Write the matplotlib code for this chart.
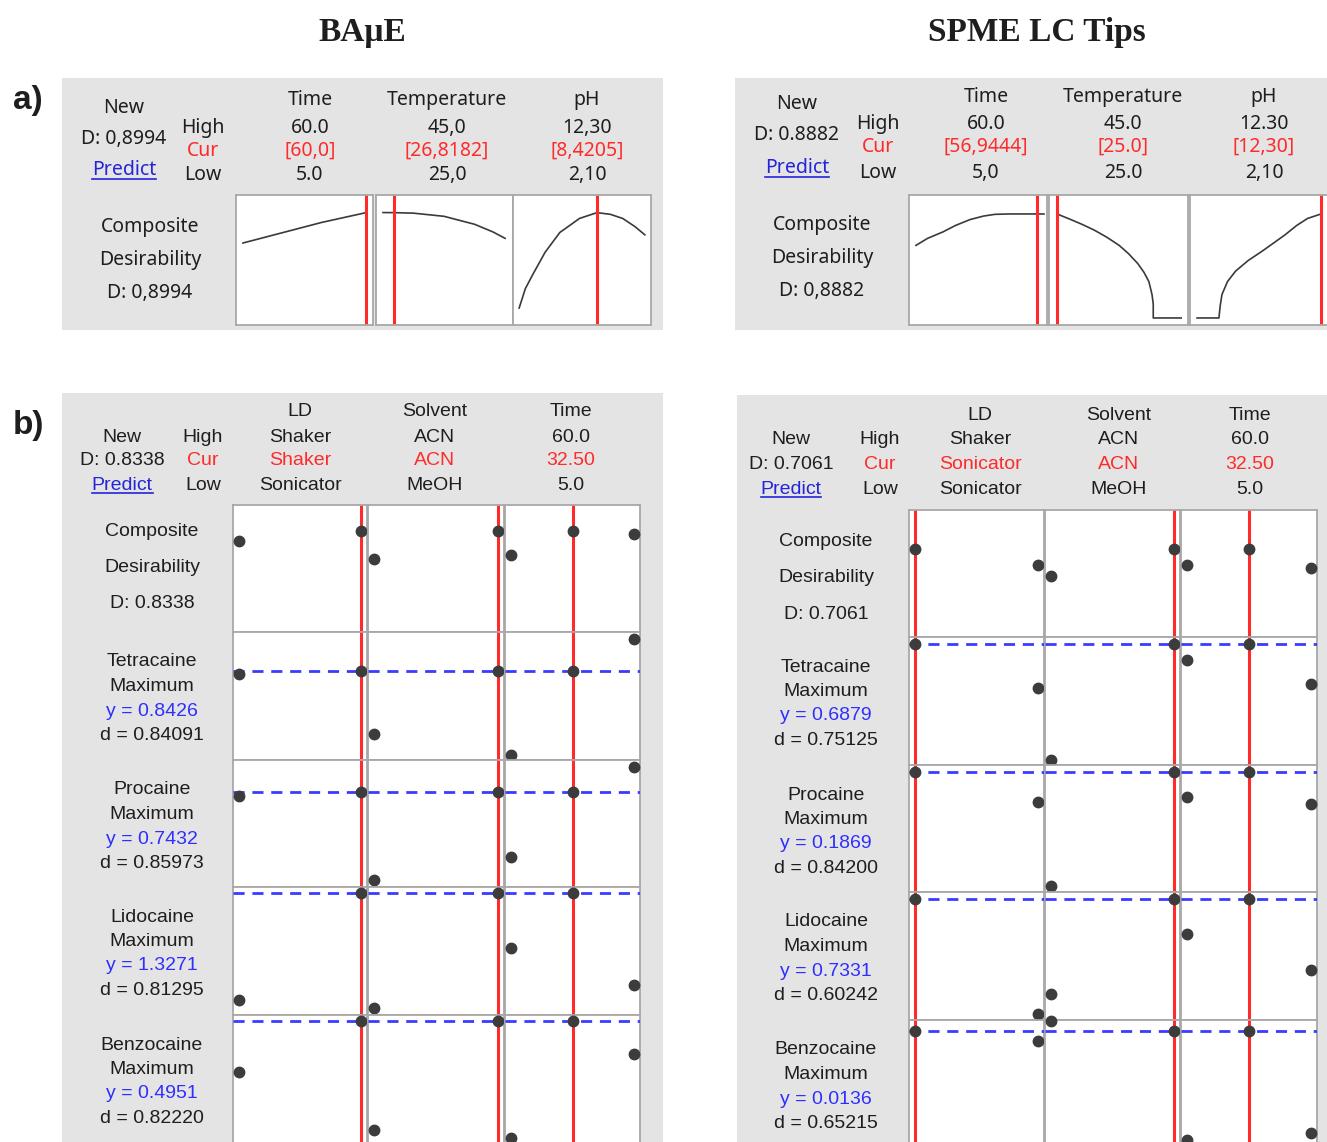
import matplotlib
matplotlib.use('Agg')
import matplotlib.pyplot as plt
from matplotlib.patches import Rectangle
from matplotlib.lines import Line2D

W, H = 1327, 1142

# ---------------- data: panel a (composite desirability profiles) ----------------
a_factors = ['Time', 'Temperature', 'pH']

baue_a_high = ['60.0', '45,0', '12,30']
baue_a_cur = ['[60,0]', '[26,8182]', '[8,4205]']
baue_a_low = ['5.0', '25,0', '2,10']
baue_a_D = 'D: 0,8994'
baue_a_compD = 'D: 0,8994'
baue_a_cur_val = [60.0, 26.8182, 8.4205]
baue_time_x = [5, 20, 40, 60]
baue_time_d = [0.64, 0.715, 0.815, 0.8994]
baue_temp_x = [25, 26.82, 30, 35, 40, 43, 45]
baue_temp_d = [0.90, 0.8994, 0.895, 0.868, 0.80, 0.735, 0.68]
baue_ph_x = [2.1, 2.6, 3.2, 4.2, 5.4, 7.0, 8.42, 9.5, 10.5, 11.5, 12.3]
baue_ph_d = [0.085, 0.25, 0.37, 0.56, 0.73, 0.85, 0.8994, 0.885, 0.85, 0.78, 0.71]

spme_a_high = ['60.0', '45.0', '12.30']
spme_a_cur = ['[56,9444]', '[25.0]', '[12,30]']
spme_a_low = ['5,0', '25.0', '2,10']
spme_a_D = 'D: 0.8882'
spme_a_compD = 'D: 0,8882'
spme_a_cur_val = [56.9444, 25.0, 12.30]
spme_time_x = [5, 10, 16.6, 22, 28.2, 34, 39, 45, 50, 56.94, 60]
spme_time_d = [0.62, 0.68, 0.735, 0.79, 0.84, 0.87, 0.885, 0.888, 0.888, 0.8882, 0.888]
spme_temp_x = [25, 27, 29, 31, 33, 35, 36.5, 38, 39, 39.8, 40.3, 40.5, 40.5, 45]
spme_temp_d = [0.888, 0.845, 0.80, 0.75, 0.69, 0.62, 0.55, 0.465, 0.39, 0.31, 0.2, 0.12, 0.0, 0.0]
spme_ph_x = [2.1, 3.9, 4.0, 4.15, 4.6, 5.27, 6.3, 7.45, 8.4, 9.34, 10.3, 11.2, 12.3]
spme_ph_d = [0.0, 0.0, 0.1, 0.2, 0.31, 0.40, 0.49, 0.57, 0.64, 0.71, 0.79, 0.85, 0.888]

# ---------------- data: panel b (factor optimisation plots) ----------------
b_factors = ['LD', 'Solvent', 'Time']
b_high = ['Shaker', 'ACN', '60.0']
b_low = ['Sonicator', 'MeOH', '5.0']
ld_levels = [0, 1]        # Sonicator, Shaker
solv_levels = [0, 1]      # MeOH, ACN
time_levels = [5, 32.5, 60]
responses = ['Tetracaine', 'Procaine', 'Lidocaine', 'Benzocaine']

baue_b_cur = ['Shaker', 'ACN', '32.50']
baue_b_cur_val = [1, 1, 32.5]
baue_b_D = '0.8338'
baue_y = ['0.8426', '0.7432', '1.3271', '0.4951']
baue_dd = ['0.84091', '0.85973', '0.81295', '0.82220']
baue_ld = [[0.773, 0.8338], [0.829, 0.8426], [0.730, 0.7432], [0.865, 1.3271], [0.373, 0.4951]]
baue_solv = [[0.66, 0.8338], [0.600, 0.8426], [0.425, 0.7432], [0.830, 1.3271], [0.234, 0.4951]]
baue_time = [[0.685, 0.8338, 0.817], [0.519, 0.8426, 0.963], [0.509, 0.7432, 0.835],
             [1.089, 1.3271, 0.930], [0.215, 0.4951, 0.417]]
baue_cur_resp = [0.8338, 0.8426, 0.7432, 1.3271, 0.4951]
baue_ylim = [(0.2, 1.0), (0.5, 0.99), (0.4, 0.86), (0.8, 1.353), (0.2, 0.51)]

spme_b_cur = ['Sonicator', 'ACN', '32.50']
spme_b_cur_val = [0, 1, 32.5]
spme_b_D = '0.7061'
spme_y = ['0.6879', '0.1869', '0.7331', '0.0136']
spme_dd = ['0.75125', '0.84200', '0.60242', '0.65215']
spme_ld = [[0.7061, 0.614], [0.6879, 0.547], [0.1869, 0.153], [0.7331, 0.416], [0.0136, 0.0127]]
spme_solv = [[0.551, 0.7061], [0.316, 0.6879], [0.057, 0.1869], [0.471, 0.7331], [0.0145, 0.0136]]
spme_time = [[0.614, 0.7061, 0.597], [0.636, 0.6879, 0.559], [0.158, 0.1869, 0.150],
             [0.636, 0.7331, 0.537], [0.0037, 0.0136, 0.0044]]
spme_cur_resp = [0.7061, 0.6879, 0.1869, 0.7331, 0.0136]
spme_ylim = [(0.2, 0.93), (0.3, 0.71), (0.05, 0.195), (0.4, 0.752), (0.003, 0.0146)]

# ---------------- styling ----------------
BG = '#e4e4e4'
TXT = '#1e1e1e'
RED = '#ff2a2a'
BLUE = '#2f2fff'
LINK = '#2424d8'
GRID = '#a8a8a8'
DOT = '#3c3c3c'
FA = 'Noto Sans'
FB = 'Liberation Sans'

fig = plt.figure(figsize=(W / 100, H / 100), dpi=100)
renderer = fig.canvas.get_renderer()


def fx(x):
    return x / W


def fy(y):
    return 1 - y / H


def put(x, y, s, size=14, color=TXT, family=FB, **kw):
    return fig.text(fx(x), fy(y), s, ha='center', va='center', fontsize=size,
                    color=color, family=family, **kw)


def predict(x, y, family):
    t = put(x, y, 'Predict', color=LINK, family=family)
    bb = t.get_window_extent(renderer)
    fig.add_artist(Line2D([bb.x0 / W, bb.x1 / W], [(bb.y0 + 1) / H] * 2,
                          color=LINK, lw=1.2, transform=fig.transFigure))


def background(x0, y0, x1, y1):
    fig.add_artist(Rectangle((fx(x0), fy(y1)), (x1 - x0) / W, (y1 - y0) / H,
                             transform=fig.transFigure, facecolor=BG,
                             edgecolor='none', zorder=-5))


def cell(x0, x1, y0, y1):
    ax = fig.add_axes([fx(x0), fy(y1), (x1 - x0) / W, (y1 - y0) / H])
    ax.set_xticks([])
    ax.set_yticks([])
    for s in ax.spines.values():
        s.set_color(GRID)
        s.set_linewidth(1.3)
    return ax


# ---------------- titles ----------------
put(362, 32, 'BAμE', size=24, family='Liberation Serif', weight='bold')
put(1037, 32, 'SPME LC Tips', size=24, family='Liberation Serif', weight='bold')
put(28, 100, 'a)', size=24, weight='bold')
put(28, 425, 'b)', size=24, weight='bold')


# ---------------- panel a ----------------
def draw_a(high, cur, low, D, compD, cur_val, curves, lab_x, hlc_x, col_x, rows,
           comp_x, comp_y, boxes, xlims):
    yf, yh, yc, yl = rows
    put(lab_x, yh - 20, 'New', family=FA)
    put(lab_x, yh + 11, D, family=FA)
    predict(lab_x, yl - 5, FA)
    put(hlc_x, yh, 'High', family=FA)
    put(hlc_x, yc, 'Cur', color=RED, family=FA)
    put(hlc_x, yl, 'Low', family=FA)
    for i in range(3):
        put(col_x[i], yf, a_factors[i], family=FA)
        put(col_x[i], yh, high[i], family=FA)
        put(col_x[i], yc, cur[i], color=RED, family=FA)
        put(col_x[i], yl, low[i], family=FA)
    for j, s in enumerate(['Composite', 'Desirability', compD]):
        put(comp_x, comp_y + 33 * j, s, family=FA)
    for i in range(3):
        ax = cell(boxes[i][0], boxes[i][1], 195, 325)
        xs, ds = curves[i]
        ax.plot(xs, ds, color='#3a3a3a', lw=1.2)
        ax.axvline(cur_val[i], color=RED, lw=2.2)
        ax.set_xlim(*xlims[i])
        ax.set_ylim(-0.06, 1.05)


background(62, 78, 663, 330)
background(735, 78, 1327, 330)

draw_a(baue_a_high, baue_a_cur, baue_a_low, baue_a_D, baue_a_compD, baue_a_cur_val,
       [(baue_time_x, baue_time_d), (baue_temp_x, baue_temp_d), (baue_ph_x, baue_ph_d)],
       124, 203, [310, 447, 587], (100, 128, 151, 175), 150, 227,
       [(236, 373), (376, 513), (513, 651)],
       [(1.9, 63.1), (23.85, 46.3), (1.6, 12.8)])
draw_a(spme_a_high, spme_a_cur, spme_a_low, spme_a_D, spme_a_compD, spme_a_cur_val,
       [(spme_time_x, spme_time_d), (spme_temp_x, spme_temp_d), (spme_ph_x, spme_ph_d)],
       797, 878, [986, 1123, 1264], (97, 124, 147, 173), 822, 225,
       [(909, 1047), (1049, 1188), (1190, 1330)],
       [(2.0, 61.3), (23.7, 46.1), (1.52, 13.04)])


# ---------------- panel b ----------------
def draw_b(cur, cur_val, D, yvals, dvals, ld, solv, tm, cur_resp, ylims, lab_x, hlc_x,
           col_x, rows, boxes, bounds, txt_x, comp_off):
    yf, yh, yc, yl = rows
    put(lab_x, yh, 'New')
    put(lab_x, yc, 'D: ' + D)
    predict(lab_x, yl, FB)
    put(hlc_x, yh, 'High')
    put(hlc_x, yc, 'Cur', color=RED)
    put(hlc_x, yl, 'Low')
    for i in range(3):
        put(col_x[i], yf, b_factors[i])
        put(col_x[i], yh, b_high[i])
        put(col_x[i], yc, cur[i], color=RED)
        put(col_x[i], yl, b_low[i])

    for r in range(5):
        top, bot = bounds[r], bounds[r + 1]
        if r == 0:
            for j, s in enumerate(['Composite', 'Desirability', 'D: ' + D]):
                put(txt_x, top + comp_off + 36 * j, s)
        else:
            lines = [(responses[r - 1], TXT), ('Maximum', TXT),
                     ('y = ' + yvals[r - 1], BLUE), ('d = ' + dvals[r - 1], TXT)]
            for j, (s, c) in enumerate(lines):
                put(txt_x, top + 30 + 24.5 * j, s, color=c)
        pts = [(ld_levels, ld[r]), (solv_levels, solv[r]), (time_levels, tm[r])]
        xl = [(-0.05, 1.05), (-0.05, 1.05), (2.25, 62.75)]
        for i in range(3):
            ax = cell(boxes[i][0], boxes[i][1], top, bot)
            ax.set_xlim(*xl[i])
            ax.set_ylim(*ylims[r])
            ax.axvline(cur_val[i], color=RED, lw=2.2, zorder=2)
            if r > 0:
                ax.axhline(cur_resp[r], color='#3b3bff', lw=2.0,
                           linestyle=(0, (4, 2.8)), zorder=3)
            ax.plot(pts[i][0], pts[i][1], 'o', color=DOT, ms=7.5, zorder=5,
                    clip_on=False)


background(62, 393, 663, 1142)
background(737, 395, 1327, 1142)

draw_b(baue_b_cur, baue_b_cur_val, baue_b_D, baue_y, baue_dd, baue_ld, baue_solv,
       baue_time, baue_cur_resp, baue_ylim, 122, 203, [300, 435, 571],
       (412, 437, 461, 486), [(233, 367), (368, 504), (505, 640)],
       [505, 632, 760, 887, 1015, 1144], 152, 27)
draw_b(spme_b_cur, spme_b_cur_val, spme_b_D, spme_y, spme_dd, spme_ld, spme_solv,
       spme_time, spme_cur_resp, spme_ylim, 791, 880, [980, 1119, 1250],
       (416, 440, 464, 489), [(909, 1044), (1045, 1180), (1181, 1317)],
       [510, 637, 765, 892, 1020, 1148], 826, 32)

fig.savefig('out.png', dpi=100)
